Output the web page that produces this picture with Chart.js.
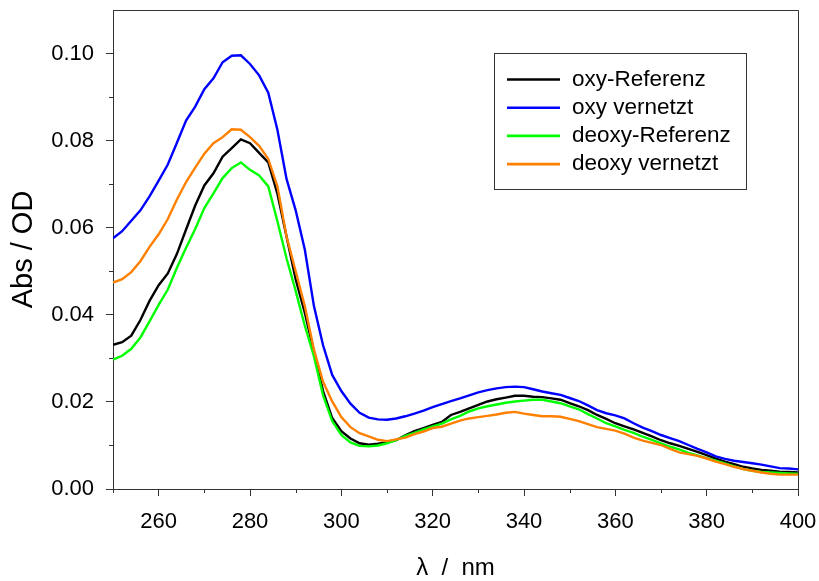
<!DOCTYPE html>
<html>
<head>
<meta charset="utf-8">
<script src="https://cdn.jsdelivr.net/npm/chart.js@4.4.1/dist/chart.umd.min.js"></script>
<style>
html,body{margin:0;padding:0;background:#fff;}
canvas{display:block;}
</style>
</head>
<body>
<canvas id="c" width="819" height="581"></canvas>
<script>
const wavelengths = [250,252,254,256,258,260,262,264,266,268,270,272,274,276,278,280,282,284,286,288,290,292,294,296,298,300,302,304,306,308,310,312,314,316,318,320,322,324,326,328,330,332,334,336,338,340,342,344,346,348,350,352,354,356,358,360,362,364,366,368,370,372,374,376,378,380,382,384,386,388,390,392,394,396,398,400];

const oxyReferenz = [.0331,.0337,.0352,.0388,.0432,.0468,.0495,.0540,.0596,.0651,.0697,.0725,.0763,.0783,.0803,.0794,.0772,.0750,.0678,.0580,.0482,.0405,.0315,.0225,.0163,.0133,.0116,.0105,.0102,.0104,.0107,.0112,.0123,.0133,.0140,.0147,.0154,.0170,.0177,.0185,.0193,.0201,.0206,.0210,.0214,.0214,.0212,.0211,.0208,.0205,.0197,.0190,.0181,.0170,.0161,.0151,.0144,.0137,.0129,.0121,.0112,.0105,.0099,.0092,.0085,.0078,.0070,.0063,.0057,.0051,.0047,.0044,.0042,.0040,.0039,.0038];

const oxyVernetzt = [.0576,.0592,.0616,.0640,.0672,.0708,.0745,.0795,.0846,.0878,.0918,.0943,.0980,.0995,.0996,.0976,.0950,.0910,.0825,.0712,.0640,.0550,.0420,.0330,.0262,.0225,.0196,.0175,.0164,.0160,.0159,.0162,.0167,.0173,.0180,.0188,.0195,.0202,.0208,.0215,.0222,.0227,.0231,.0234,.0235,.0234,.0229,.0224,.0220,.0216,.0209,.0202,.0192,.0181,.0174,.0169,.0162,.0151,.0141,.0133,.0124,.0117,.0110,.0101,.0092,.0084,.0075,.0069,.0065,.0062,.0059,.0056,.0052,.0048,.0047,.0045];

const deoxyReferenz = [.0297,.0306,.0322,.0348,.0385,.0423,.0458,.0508,.0554,.0597,.0645,.0679,.0714,.0737,.0750,.0733,.0720,.0695,.0615,.0530,.0455,.0375,.0305,.0215,.0156,.0124,.0107,.0099,.0098,.0100,.0105,.0112,.0122,.0129,.0137,.0144,.0150,.0160,.0168,.0178,.0185,.0190,.0194,.0198,.0201,.0203,.0205,.0205,.0201,.0197,.0190,.0183,.0172,.0162,.0151,.0144,.0136,.0129,.0120,.0113,.0105,.0097,.0091,.0083,.0077,.0071,.0065,.0059,.0052,.0046,.0042,.0039,.0038,.0037,.0036,.0035];

const deoxyVernetzt = [.0474,.0482,.0498,.0523,.0556,.0585,.0620,.0665,.0705,.0738,.0770,.0794,.0808,.0826,.0825,.0808,.0788,.0758,.0695,.0580,.0500,.0420,.0320,.0246,.0201,.0165,.0142,.0128,.0121,.0113,.0110,.0114,.0118,.0126,.0132,.0140,.0143,.0150,.0157,.0162,.0165,.0168,.0171,.0175,.0177,.0173,.0170,.0167,.0167,.0166,.0161,.0156,.0149,.0142,.0138,.0134,.0127,.0118,.0111,.0106,.0101,.0092,.0084,.0080,.0076,.0070,.0063,.0057,.0051,.0046,.0042,.0038,.0035,.0033,.0033,.0033];

const seriesLabels = ['oxy-Referenz','oxy vernetzt','deoxy-Referenz','deoxy vernetzt'];
const seriesColors = ['#000000','#0000ff','#00ff00','#ff8000'];
const xTickValues = [260,280,300,320,340,360,380,400];
const xMinorTicks = [250,270,290,310,330,350,370,390];
const yTickValues = [0,0.02,0.04,0.06,0.08,0.10];
const yMinorTicks = [0.01,0.03,0.05,0.07,0.09];

const FONT = '"Liberation Sans", Arial, Helvetica, sans-serif';
const AXIS_COLOR = '#333';

const seriesValues = [oxyReferenz, oxyVernetzt, deoxyReferenz, deoxyVernetzt];
const drawOrder = [3,2,1,0];

const datasets = seriesValues.map((vals, i) => ({
  label: seriesLabels[i],
  data: wavelengths.map((w, k) => ({x: w, y: vals[k]})),
  borderColor: seriesColors[i],
  backgroundColor: seriesColors[i],
  borderWidth: 2.4,
  pointRadius: 0,
  tension: 0,
  fill: false,
  order: drawOrder[i]
}));

const framePlugin = {
  id: 'frame',
  afterDraw(chart) {
    const {ctx, chartArea: a, scales} = chart;
    ctx.save();
    ctx.strokeStyle = AXIS_COLOR;
    ctx.lineWidth = 1;
    ctx.beginPath();
    ctx.moveTo(Math.round(a.left) + 0.5, Math.round(a.top) + 0.5);
    ctx.lineTo(Math.round(a.right) + 0.5, Math.round(a.top) + 0.5);
    ctx.lineTo(Math.round(a.right) + 0.5, Math.round(a.bottom) + 0.5);
    xMinorTicks.forEach(v => {
      const px = Math.round(scales.x.getPixelForValue(v)) + 0.5;
      ctx.moveTo(px, a.bottom);
      ctx.lineTo(px, a.bottom + 4);
    });
    yMinorTicks.forEach(v => {
      const py = Math.round(scales.y.getPixelForValue(v)) + 0.5;
      ctx.moveTo(a.left - 4, py);
      ctx.lineTo(a.left, py);
    });
    ctx.stroke();

    const bx = a.left + 381, by = a.top + 43, bw = 252, bh = 136;
    ctx.strokeRect(Math.round(bx) + 0.5, Math.round(by) + 0.5, bw, bh);
    ctx.font = '22.5px ' + FONT;
    ctx.textBaseline = 'middle';
    ctx.textAlign = 'left';
    chart.data.datasets.forEach((ds, i) => {
      const ry = by + 26.5 + i * 28.2;
      ctx.strokeStyle = ds.borderColor;
      ctx.lineWidth = 2.6;
      ctx.beginPath();
      ctx.moveTo(bx + 13, ry);
      ctx.lineTo(bx + 66, ry);
      ctx.stroke();
      ctx.fillStyle = '#000';
      ctx.fillText(ds.label, bx + 78, ry);
    });
    ctx.restore();
  }
};

new Chart(document.getElementById('c'), {
  type: 'line',
  data: { datasets },
  options: {
    responsive: false,
    devicePixelRatio: 1,
    animation: false,
    layout: { padding: { top: 10, right: 21, left: 0, bottom: 0 } },
    plugins: { legend: { display: false }, tooltip: { enabled: false } },
    scales: {
      x: {
        type: 'linear',
        min: 250, max: 400,
        afterBuildTicks: s => { s.ticks = xTickValues.map(v => ({value: v})); },
        afterFit: s => { s.height = 92; s.paddingLeft = 0; s.paddingRight = 0; },
        grid: { drawOnChartArea: false, tickLength: 7, color: AXIS_COLOR, tickColor: AXIS_COLOR },
        border: { display: true, color: AXIS_COLOR, width: 1 },
        ticks: { color: '#000', font: { family: FONT, size: 22 }, padding: 13, maxRotation: 0, autoSkip: false },
        title: { display: true, text: 'λ  /  nm', color: '#000', font: { family: FONT, size: 24, lineHeight: 1 }, padding: { top: 0, bottom: 1 } }
      },
      y: {
        type: 'linear',
        min: 0, max: 0.11,
        afterBuildTicks: s => { s.ticks = yTickValues.map(v => ({value: v})); },
        afterFit: s => { s.width = 113; s.paddingTop = 0; s.paddingBottom = 0; },
        grid: { drawOnChartArea: false, tickLength: 7, color: AXIS_COLOR, tickColor: AXIS_COLOR },
        border: { display: true, color: AXIS_COLOR, width: 1 },
        ticks: { color: '#000', font: { family: FONT, size: 22 }, padding: 12, callback: v => Number(v).toFixed(2) },
        title: { display: true, text: 'Abs / OD', color: '#000', font: { family: FONT, size: 29 }, padding: { top: 7, bottom: 0 } }
      }
    }
  },
  plugins: [framePlugin]
});
</script>
</body>
</html>
